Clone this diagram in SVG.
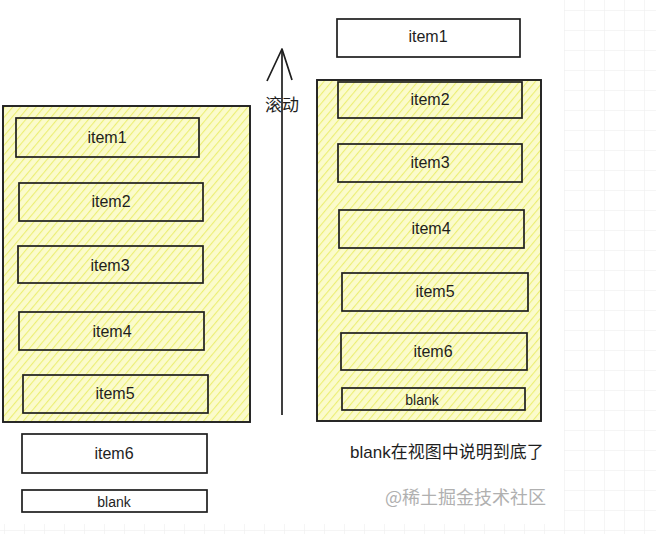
<svg xmlns="http://www.w3.org/2000/svg" width="656" height="534" viewBox="0 0 656 534">
<defs>
<pattern id="grid" width="20" height="20" patternUnits="userSpaceOnUse" x="4" y="10">
<path d="M0 0H20M0 0V20" fill="none" stroke="#ebebeb" stroke-width="1"/>
</pattern>
<pattern id="hatch" width="6" height="6" patternUnits="userSpaceOnUse" patternTransform="rotate(40)">
<rect width="6" height="6" fill="#fbfbcc"/>
<line x1="0" y1="0" x2="0" y2="6" stroke="#ecef74" stroke-width="2.2"/>
</pattern>
</defs>
<style>
.box{fill:none;stroke:#1e1e1e;stroke-width:1.7}
.white{fill:#ffffff;stroke:#1e1e1e;stroke-width:1.7}
.cont{fill:url(#hatch);stroke:#1e1e1e;stroke-width:1.9}
.lbl{font-family:"Liberation Sans","Noto Sans",sans-serif;font-size:16px;fill:#1e1e1e;text-anchor:middle;dominant-baseline:central}
.small{font-size:14px}
.cjk{font-family:"Liberation Sans","Noto Sans CJK SC",sans-serif;font-size:17px;fill:#1e1e1e}
</style>
<rect width="656" height="534" fill="url(#grid)"/>
<rect width="564" height="524" fill="#ffffff"/>

<g id="left-viewport">
<rect class="cont" x="3" y="106" width="247" height="316"/>
</g>
<g id="left-item1"><rect class="box" x="16" y="118" width="183" height="39"/><text class="lbl" x="107" y="137">item1</text></g>
<g id="left-item2"><rect class="box" x="19" y="183" width="184" height="38"/><text class="lbl" x="111" y="201">item2</text></g>
<g id="left-item3"><rect class="box" x="18" y="246" width="185" height="37"/><text class="lbl" x="110" y="265">item3</text></g>
<g id="left-item4"><rect class="box" x="19" y="312" width="185" height="38"/><text class="lbl" x="112" y="331">item4</text></g>
<g id="left-item5"><rect class="box" x="23" y="375" width="185" height="38"/><text class="lbl" x="115" y="393">item5</text></g>
<g id="left-item6"><rect class="white" x="22" y="434" width="185" height="39"/><text class="lbl" x="114" y="453">item6</text></g>
<g id="left-blank"><rect class="white" x="22" y="490" width="185" height="22"/><text class="lbl small" x="114" y="502">blank</text></g>

<g id="connectors">
<line x1="282" y1="415" x2="282" y2="49" stroke="#1e1e1e" stroke-width="1.7"/>
<polyline points="267,81 282,49 292,80" fill="none" stroke="#1e1e1e" stroke-width="1.7" stroke-linejoin="round"/>
</g>
<g id="scroll-label"><text class="cjk" x="265" y="111">滚动</text></g>

<g id="right-item1"><rect class="white" x="337" y="19" width="183" height="38"/><text class="lbl" x="428" y="36">item1</text></g>
<g id="right-viewport">
<rect class="cont" x="317" y="80" width="224" height="341"/>
</g>
<g id="right-item2"><rect class="box" x="338" y="82" width="184" height="36"/><text class="lbl" x="430" y="99">item2</text></g>
<g id="right-item3"><rect class="box" x="338" y="144" width="184" height="38"/><text class="lbl" x="430" y="162">item3</text></g>
<g id="right-item4"><rect class="box" x="339" y="210" width="185" height="38"/><text class="lbl" x="431" y="228">item4</text></g>
<g id="right-item5"><rect class="box" x="342" y="273" width="186" height="38"/><text class="lbl" x="435" y="291">item5</text></g>
<g id="right-item6"><rect class="box" x="341" y="333" width="186" height="37"/><text class="lbl" x="433" y="351">item6</text></g>
<g id="right-blank"><rect class="box" x="342" y="388" width="183" height="22"/><text class="lbl small" x="422" y="400">blank</text></g>

<g id="note"><text class="cjk" x="350" y="458">blank在视图中说明到底了</text></g>
<g id="watermark"><text x="385" y="504" font-family="'Noto Sans CJK SC',sans-serif" font-size="18" fill="#b0b0b0">@稀土掘金技术社区</text></g>
</svg>
